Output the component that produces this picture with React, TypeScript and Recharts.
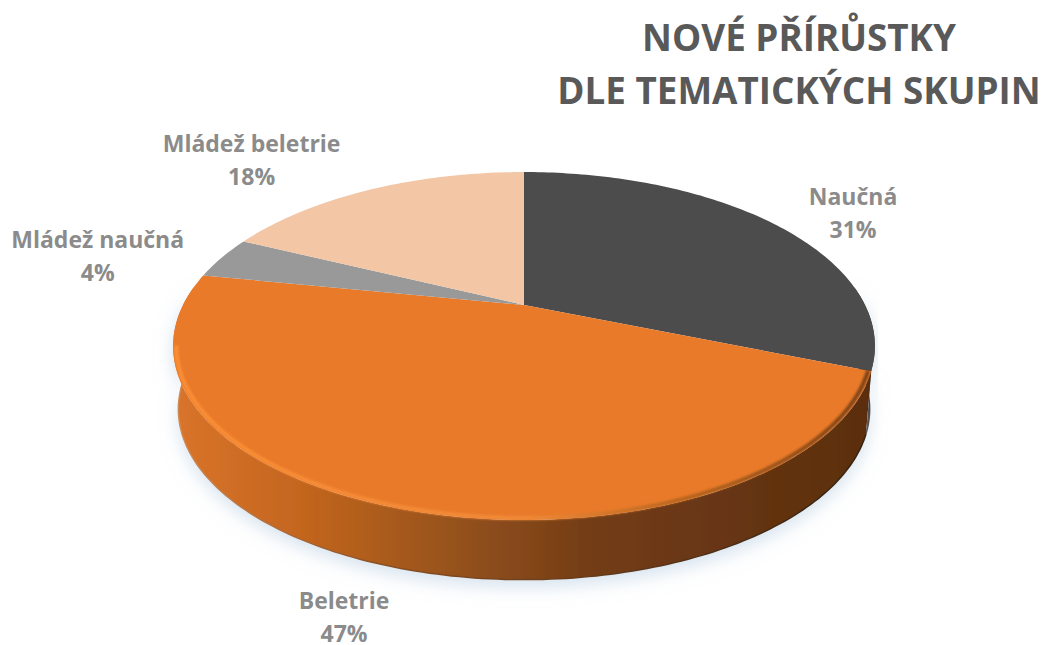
import { PieChart, Pie, Cell } from 'recharts';

const categories = ['Naučná', 'Beletrie', 'Mládež naučná', 'Mládež beletrie'];
const shares = [31, 47, 4, 18];
const titleLines = ['NOVÉ PŘÍRŮSTKY', 'DLE TEMATICKÝCH SKUPIN'];

const COLORS = ['#4c4c4c', '#e97a2a', '#999999', '#f3c6a6'];
const SIDE_FILLS = ['url(#side-dark)', 'url(#side-orange)', 'none', 'none'];
const LABEL_OFFSETS = [
  [80, -9],
  [-57, 109],
  [-124, -1],
  [-120, -28],
];

const chartData = categories.map((name, i) => ({ name, value: shares[i] }));

// fake perspective: the flat circle is tilted, far side smaller than near side
const TILT = 0.4818;
const K = 0.2356;
const DEPTH = 64;
const RAD = Math.PI / 180;
// rim angle where the outline of the tilted disc turns back on itself
const SIDE_START = -(Math.asin(K) / RAD);
const SIDE_END = -180 + Math.asin(K) / RAD;

function project(cx: number, cy: number, r: number, angle: number) {
  const u = Math.cos(angle * RAD);
  const v = Math.sin(angle * RAD);
  const d = 1 + K * v;
  return { x: cx + (r * u) / d, y: cy - (r * TILT * v) / d };
}

function rim(cx: number, cy: number, r: number, from: number, to: number) {
  const steps = Math.max(2, Math.ceil(Math.abs(to - from)));
  const pts = [];
  for (let i = 0; i <= steps; i++) {
    pts.push(project(cx, cy, r, from + ((to - from) * i) / steps));
  }
  return pts;
}

const toPath = (pts: { x: number; y: number }[]) =>
  pts.map((p, i) => `${i ? 'L' : 'M'}${p.x.toFixed(1)} ${p.y.toFixed(1)}`).join(' ');

function Slice3D(props: any) {
  const { cx, cy, outerRadius, startAngle, endAngle, fill, index } = props;
  const edge = rim(cx, cy, outerRadius, startAngle, endAngle);
  const top = `M${cx} ${cy} ${toPath(edge).replace('M', 'L')} Z`;

  // only the part of the rim facing the viewer gets a side wall
  let side = null;
  let front: { x: number; y: number }[] = [];
  let lower: { x: number; y: number }[] = [];
  if (SIDE_FILLS[index] !== 'none') {
    front = rim(cx, cy, outerRadius, Math.min(startAngle, SIDE_START + 20), Math.max(endAngle, SIDE_END - 20));
    lower = [...front].reverse().map((p) => ({
      x: cx + (p.x - cx) * 0.985,
      y: cy + (p.y - cy) * 0.98 + DEPTH,
    }));
    side = toPath([...front, ...lower]) + ' Z';
  }
  const bevel = index === 1 ? rim(cx, cy, outerRadius - 3, startAngle, SIDE_END) : null;

  return (
    <g>
      {side && <path d={side} fill={SIDE_FILLS[index]} filter="url(#soft-shadow)" />}
      {side && <path d={toPath(lower)} fill="none" stroke="url(#lower-edge)" strokeWidth={1.5} />}
      <path d={top} fill={fill} />
      {bevel && (
        <path d={toPath(bevel)} fill="none" stroke="url(#bevel)" strokeWidth={4} filter="url(#soften)" />
      )}
    </g>
  );
}

function SliceLabel(props: any) {
  const { cx, cy, outerRadius, midAngle, name, percent, index } = props;
  const p = project(cx, cy, outerRadius, midAngle);
  const x = p.x + LABEL_OFFSETS[index][0];
  const y = p.y + LABEL_OFFSETS[index][1];
  return (
    <text
      x={x}
      y={y}
      textAnchor="middle"
      fill="#8b8b8b"
      fontSize={23}
      fontWeight={700}
      fontFamily="'Open Sans', sans-serif"
    >
      <tspan x={x} dy={-9}>{name}</tspan>
      <tspan x={x} dy={33}>{`${Math.round(percent * 100)}%`}</tspan>
    </text>
  );
}

export default function App() {
  return (
    <div style={{ position: 'absolute', left: 0, top: 0, width: 1043, height: 645, background: '#fff' }}>
      <PieChart width={1043} height={645} margin={{ top: 0, right: 0, bottom: 0, left: 0 }}>
        <defs>
          <linearGradient id="side-orange" gradientUnits="userSpaceOnUse" x1="173" y1="0" x2="875" y2="0">
            <stop offset="0%" stopColor="#d9742a" />
            <stop offset="18%" stopColor="#c4661f" />
            <stop offset="40%" stopColor="#96521d" />
            <stop offset="60%" stopColor="#723c16" />
            <stop offset="100%" stopColor="#5a2e0e" />
          </linearGradient>
          <linearGradient id="side-dark" gradientUnits="userSpaceOnUse" x1="850" y1="0" x2="880" y2="0">
            <stop offset="0%" stopColor="#3a3a3a" />
            <stop offset="100%" stopColor="#262626" />
          </linearGradient>
          <linearGradient id="lower-edge" gradientUnits="userSpaceOnUse" x1="173" y1="0" x2="875" y2="0">
            <stop offset="0%" stopColor="#d08a55" />
            <stop offset="30%" stopColor="#8a4f22" />
            <stop offset="100%" stopColor="#33200f" />
          </linearGradient>
          <linearGradient id="bevel" gradientUnits="userSpaceOnUse" x1="173" y1="0" x2="875" y2="0">
            <stop offset="0%" stopColor="#fb8f36" />
            <stop offset="50%" stopColor="#f08a38" />
            <stop offset="72%" stopColor="#b8661f" />
            <stop offset="100%" stopColor="#7a4016" />
          </linearGradient>
          <filter id="soft-shadow" x="-10%" y="-10%" width="120%" height="130%">
            <feDropShadow dx="0" dy="7" stdDeviation="9" floodColor="#b9cfe2" floodOpacity="0.6" />
          </filter>
          <filter id="soften" x="-5%" y="-5%" width="110%" height="110%">
            <feGaussianBlur stdDeviation="1.2" />
          </filter>
        </defs>
        {titleLines.map((line, i) => (
          <text
            key={line}
            x={799}
            y={51 + i * 53}
            textAnchor="middle"
            fill="#595959"
            fontSize={36.8}
            fontWeight={700}
            fontFamily="'Open Sans', sans-serif"
          >
            {line}
          </text>
        ))}
        <Pie
          data={chartData}
          dataKey="value"
          nameKey="name"
          cx={524}
          cy={305}
          outerRadius={341}
          startAngle={90}
          endAngle={-270}
          stroke="none"
          isAnimationActive={false}
          shape={Slice3D}
          label={SliceLabel}
          labelLine={false}
        >
          {chartData.map((d, i) => (
            <Cell key={d.name} fill={COLORS[i]} />
          ))}
        </Pie>
      </PieChart>
    </div>
  );
}
